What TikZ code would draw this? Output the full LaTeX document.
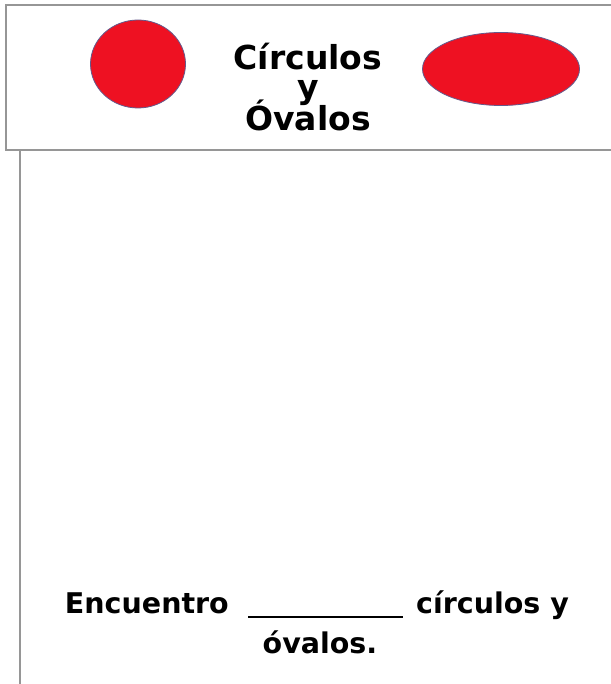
\documentclass[tikz,border=0pt]{standalone}
\usepackage{fontspec}
\setmainfont{DejaVu Sans}
\usetikzlibrary{shapes.geometric}
\definecolor{shapered}{RGB}{238,17,34}
\definecolor{shapeedge}{RGB}{100,90,140}
\definecolor{framegray}{RGB}{150,150,150}
\begin{document}
\begin{tikzpicture}[x=1pt,y=-1pt,
  frame/.style={draw=framegray,line width=2.5pt},
  shapefill/.style={fill=shapered,draw=shapeedge,line width=0.8pt,ellipse,inner sep=0pt},
  title/.style={font=\fontsize{33}{36}\selectfont\bfseries,inner sep=0pt,anchor=base},
  body/.style={font=\fontsize{28.5}{34}\selectfont\bfseries,inner sep=0pt}]
\useasboundingbox (0,0) rectangle (610,684);
\fill[white] (0,0) rectangle (610,684);
\draw[frame] (616,5) -- (6,5) -- (6,150) -- (616,150);
\draw[draw=framegray,line width=2pt] (20,151) coordinate (vtop) -- (20,690) coordinate (vbot);
\node[shapefill,minimum width=95pt,minimum height=88pt] (circ) at (138,64) {};
\node[shapefill,minimum width=157pt,minimum height=73pt] (oval) at (501,69) {};
\node[title,text height=25pt,text depth=0pt] (t1) at (308,70) {Círculos};
\node[title,text height=18pt,text depth=7pt] (t2) at (308,99) {y};
\node[title,text height=23pt,text depth=0pt] (t3) at (308,131) {Óvalos};
\node[body,anchor=base east] (b1) at (229,613) {Encuentro};
\coordinate (ul) at (248,617);
\coordinate (ur) at (403,617);
\draw[line width=2pt] (ul) -- (ur);
\node[body,anchor=base west] (b2) at (416,613) {círculos y};
\node[body,anchor=base] (b3) at (320,653) {óvalos.};
\end{tikzpicture}
\end{document}
